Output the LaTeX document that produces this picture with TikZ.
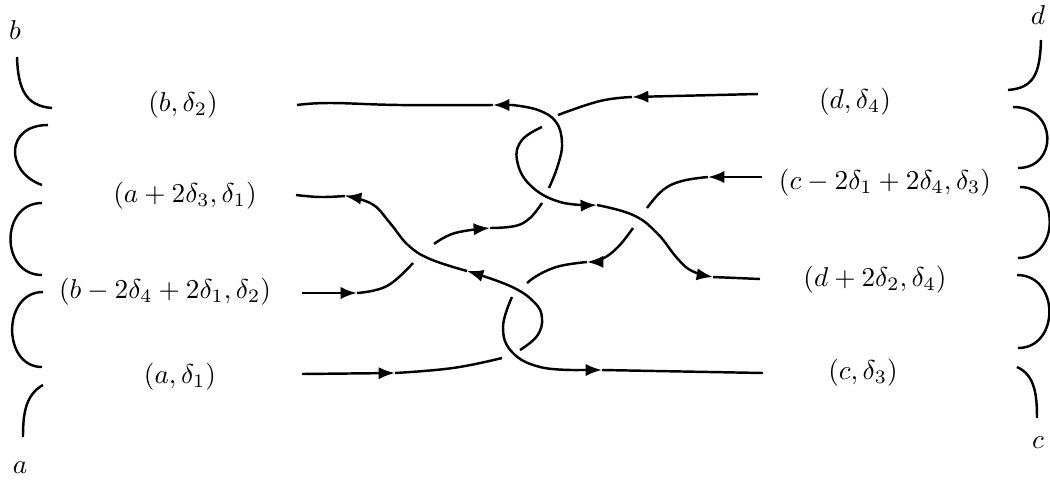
\documentclass[tikz,border=0pt]{standalone}
\usetikzlibrary{arrows.meta}

\begin{document}
\begin{tikzpicture}[
  x=0.0129cm, y=-0.0129cm,
  strand/.style={line width=0.9pt},
  arr/.style={strand,-{Latex[length=6pt,width=4.5pt]}},
  arcline/.style={line width=0.9pt},
  lbl/.style={inner sep=1pt},
  smooth, tension=0.7
]
  \useasboundingbox (0,0) rectangle (1050,483);

  % labels
  \node[lbl] (b2) at (183,105) {$(b,\delta_2)$};
  \node[lbl] (a3) at (185,196) {$(a+2\delta_3,\delta_1)$};
  \node[lbl] (b4) at (165,292) {$(b-2\delta_4+2\delta_1,\delta_2)$};
  \node[lbl] (a1) at (180,377) {$(a,\delta_1)$};
  \node[lbl] (d4) at (855,102) {$(d,\delta_4)$};
  \node[lbl] (c1) at (885,183) {$(c-2\delta_1+2\delta_4,\delta_3)$};
  \node[lbl] (d2) at (875,280) {$(d+2\delta_2,\delta_4)$};
  \node[lbl] (c3) at (863,373) {$(c,\delta_3)$};
  \node[lbl] (lb) at (15,30) {$b$};
  \node[lbl] (la) at (20,468) {$a$};
  \node[lbl] (ld) at (1038,15) {$d$};
  \node[lbl] (lc) at (1038,443) {$c$};

  % strand ends
  \coordinate (sb2) at (297,105);
  \coordinate (sa3) at (296,195);
  \coordinate (sb4) at (302,293);
  \coordinate (sa1) at (302,374);
  \coordinate (sd4) at (758,94);
  \coordinate (sc1) at (762,177);
  \coordinate (sd2) at (760,279);
  \coordinate (sc3) at (763,373);

  % left arcs
  \draw[arcline] (17,57) .. controls (18,88) and (25,106) .. (52,108);
  \draw[arcline] (48,125) .. controls (5,125) and (5,172) .. (42,185);
  \draw[arcline] (42,203) .. controls (0,203) and (0,275) .. (42,275);
  \draw[arcline] (43,292) .. controls (2,292) and (2,367) .. (42,367);
  \draw[arcline] (43,385) .. controls (25,395) and (23,415) .. (23,437);

  % right arcs
  \draw[arcline] (1041,40) .. controls (1040,75) and (1033,88) .. (1008,90);
  \draw[arcline] (1013,107) .. controls (1058,107) and (1058,168) .. (1018,168);
  \draw[arcline] (1020,187) .. controls (1060,187) and (1060,258) .. (1018,258);
  \draw[arcline] (1017,275) .. controls (1060,275) and (1060,348) .. (1018,348);
  \draw[arcline] (1017,367) .. controls (1035,375) and (1037,395) .. (1037,418);

  % (a,d1) -> (a+2d3,d1)
  \draw[arr] (sa1) -- (395,373);
  \draw[strand] plot coordinates {(395,373) (453,368) (502,358)};
  \draw[arr] plot coordinates {(520,350) (537,336) (542,318) (534,302)
    (510,286) (467,271)};
  \draw[arr] plot coordinates {(467,271) (430,259) (408,245) (390,223)
    (372,204) (345,196)};
  \draw[strand] plot coordinates {(345,196) (320,197) (sa3)};

  % (b-2d4+2d1,d2) -> (b,d2)
  \draw[arr] (sb4) -- (357,293);
  \draw[strand] plot coordinates {(357,293) (387,286) (413,263)};
  \draw[arr] plot coordinates {(434,244) (455,233) (490,228)};
  \draw[strand] plot coordinates {(490,228) (515,226) (530,218) (542,203)};
  \draw[arr] plot coordinates {(549,188) (558,165) (562,143) (556,122)
    (538,110) (512,105)} -- (493,105);
  \draw[strand] plot coordinates {(493,105) (400,105) (330,103) (sb2)};

  % (c-2d1+2d4,d3) -> (c,d3)
  \draw[arr] (sc1) -- (708,177);
  \draw[strand] plot coordinates {(708,177) (682,181) (663,190) (647,208)};
  \draw[arr] plot coordinates {(633,228) (618,247) (602,259) (587,262)};
  \draw[strand] plot coordinates {(587,262) (560,266) (540,274) (527,283)};
  \draw[arr] plot coordinates {(512,297) (503,327) (512,352)
    (540,367) (580,370)} -- (602,370);
  \draw[strand] (602,370) -- (sc3);

  % (d,d4) -> (d+2d2,d4)
  \draw[arr] (sd4) -- (632,97);
  \draw[strand] plot coordinates {(632,97) (600,101) (558,115)};
  \draw[arr] plot coordinates {(542,127) (522,140) (517,160) (530,185)
    (560,202) (597,205)};
  \draw[arr] plot coordinates {(597,205) (633,215) (657,233) (677,258)
    (692,271) (713,277)};
  \draw[strand] (713,277) -- (sd2);
\end{tikzpicture}
\end{document}
